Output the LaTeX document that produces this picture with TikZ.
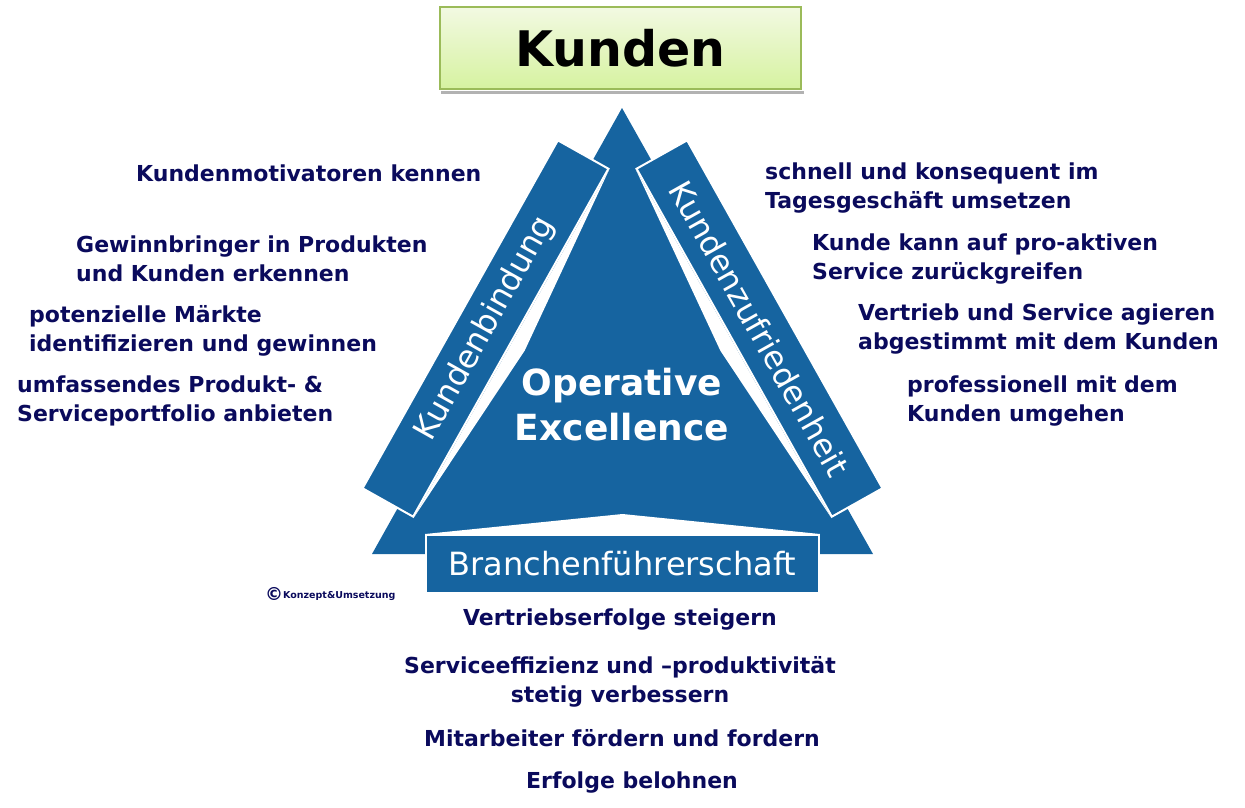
\documentclass[tikz,border=0pt]{standalone}
\usepackage{fontspec}
\setmainfont{DejaVu Sans}
\usetikzlibrary{calc}
\definecolor{okblue}{RGB}{22,100,160}
\definecolor{oknavy}{RGB}{10,10,92}
\definecolor{okgreen}{RGB}{155,187,89}
\definecolor{oklight}{RGB}{242,249,226}
\definecolor{oklime}{RGB}{214,242,160}

\tikzset{
  bar/.style={draw=white, line width=2pt, fill=okblue, text=white, inner sep=0pt,
    minimum width=399pt, minimum height=58pt, font=\fontsize{32}{38}\selectfont},
  point/.style={text=oknavy, font=\bfseries\fontsize{22}{29}\selectfont,
    inner sep=0pt, align=left, anchor=west},
  result/.style={point, align=center, anchor=center}
}

\begin{document}
\begin{tikzpicture}[x=1pt,y=-1pt]
  \useasboundingbox (0,0) rectangle (1245,807);
  % Kunden on top
  \node[draw=okgreen, line width=2pt, top color=oklight, bottom color=oklime,
    minimum width=361pt, minimum height=82pt, font=\bfseries\fontsize{49}{55}\selectfont]
    (kunden) at (620.5,48) {Kunden};
  \fill[black!30] ($(kunden.south west)+(2,1)$) rectangle ($(kunden.south east)+(2,4)$);
  % Triangle
  \fill[okblue] (622,108) -- (873,554) -- (372,554) -- cycle;
  % Sides
  \node[bar, rotate=60.7] (bindung) at (485.5,328.5) {Kundenbindung};
  \node[bar, rotate=-60.7] (zufried) at (759.5,328.5) {Kundenzufriedenheit};
  \node[bar, minimum width=393pt] (fuehrung) at (622.5,564) {Branchenführerschaft};
  % White gaps
  \fill[white] (bindung.south east) -- ($(bindung.south)!-15pt!(bindung.north)$)
    -- (bindung.south west) -- cycle;
  \fill[white] (zufried.south west) -- ($(zufried.south)!-15pt!(zufried.north)$)
    -- (zufried.south east) -- cycle;
  \fill[white] (fuehrung.north west) -- ($(fuehrung.north)!-20pt!(fuehrung.south)$)
    -- (fuehrung.north east) -- cycle;
  % Centre
  \node[text=white, align=center, font=\bfseries\fontsize{36}{45}\selectfont]
    (kern) at (622,405) {Operative\\Excellence};
  % Left side
  \node[point] (l1) at (136,173) {Kundenmotivatoren kennen};
  \node[point] (l2) at (76,259) {Gewinnbringer in Produkten\\und Kunden erkennen};
  \node[point] (l3) at (29,331) {potenzielle Märkte\\identifizieren und gewinnen};
  \node[point] (l4) at (17,401) {umfassendes Produkt- \&\\Serviceportfolio anbieten};
  % Right side
  \node[point] (r1) at (765,188) {schnell und konsequent im\\Tagesgeschäft umsetzen};
  \node[point] (r2) at (812,259) {Kunde kann auf pro-aktiven\\Service zurückgreifen};
  \node[point] (r3) at (858,329) {Vertrieb und Service agieren\\abgestimmt mit dem Kunden};
  \node[point] (r4) at (907,401) {professionell mit dem\\Kunden umgehen};
  % Bottom
  \node[result] (b1) at (620,620) {Vertriebserfolge steigern};
  \node[result] (b2) at (620,682) {Serviceeffizienz und –produktivität\\stetig verbessern};
  \node[result] (b3) at (622,738) {Mitarbeiter fördern und fordern};
  \node[result] (b4) at (632,783) {Erfolge belohnen};
  % Copyright
  \node[text=oknavy, anchor=west, inner sep=0pt, font=\bfseries\fontsize{9.5}{11}\selectfont]
    (copy) at (265,594) {\raisebox{-2.5pt}{\fontsize{18}{18}\selectfont\textcopyright}Konzept\&Umsetzung};
\end{tikzpicture}
\end{document}
